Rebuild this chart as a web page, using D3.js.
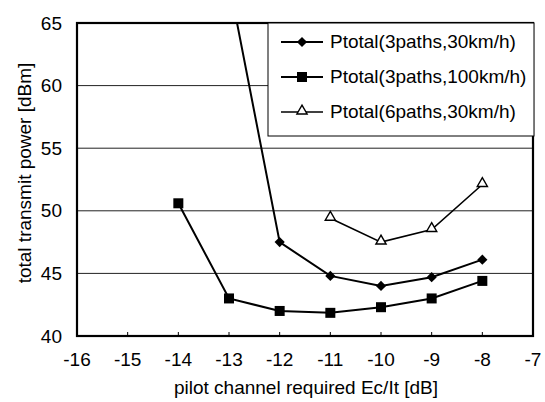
<!DOCTYPE html>
<html>
<head>
<meta charset="utf-8">
<script src="https://cdn.jsdelivr.net/npm/d3@7"></script>
<style>
  body { margin: 0; background: #fff; }
  text { font-family: "Liberation Sans", Arial, sans-serif; fill: #000; }
</style>
</head>
<body>
<div id="chart"></div>
<script>
// data
var xTicks = [-16, -15, -14, -13, -12, -11, -10, -9, -8, -7];
var yTicks = [40, 45, 50, 55, 60, 65];

var x3p30 = [-13, -12, -11, -10, -9, -8];
var y3p30 = [68.3, 47.5, 44.8, 44.0, 44.7, 46.1];

var x3p100 = [-14, -13, -12, -11, -10, -9, -8];
var y3p100 = [50.6, 43.0, 42.0, 41.85, 42.3, 43.0, 44.4];

var x6p30 = [-11, -10, -9, -8];
var y6p30 = [49.4, 47.5, 48.5, 52.1];

var seriesNames = ["Ptotal(3paths,30km/h)", "Ptotal(3paths,100km/h)", "Ptotal(6paths,30km/h)"];

// set the dimensions and margins of the graph
var margin = {top: 23, right: 12, bottom: 66, left: 77},
    width = 545 - margin.left - margin.right,
    height = 402 - margin.top - margin.bottom;

var svg = d3.select("#chart")
    .append("svg")
        .attr("width", 545)
        .attr("height", 402)
    .append("g")
        .attr("transform", "translate(" + margin.left + "," + margin.top + ")");

var x = d3.scaleLinear().domain([-16, -7]).range([0, width]);
var y = d3.scaleLinear().domain([40, 65]).range([height, 0]);

svg.append("clipPath").attr("id", "plotClip")
    .append("rect").attr("width", width).attr("height", height);

// horizontal grid
svg.selectAll(".hline").data([45, 50, 55, 60]).enter()
    .append("line")
        .attr("x1", 0).attr("x2", width)
        .attr("y1", function(d){ return y(d); })
        .attr("y2", function(d){ return y(d); })
        .attr("stroke", "#222").attr("stroke-width", 1);

// inner tick marks on the bottom axis
svg.selectAll(".xtick").data(xTicks).enter()
    .append("line")
        .attr("x1", function(d){ return x(d); })
        .attr("x2", function(d){ return x(d); })
        .attr("y1", height).attr("y2", height - 4)
        .attr("stroke", "#000").attr("stroke-width", 1);

// frame
svg.append("rect")
    .attr("width", width).attr("height", height)
    .attr("fill", "none").attr("stroke", "#000").attr("stroke-width", 2.2);

// tick labels
svg.selectAll(".xlab").data(xTicks).enter()
    .append("text")
        .attr("x", function(d){ return x(d); })
        .attr("y", height + 30)
        .attr("text-anchor", "middle")
        .style("font-size", "19px")
        .text(function(d){ return d; });

svg.selectAll(".ylab").data(yTicks).enter()
    .append("text")
        .attr("x", -15)
        .attr("y", function(d){ return y(d); })
        .attr("dy", "0.35em")
        .attr("text-anchor", "end")
        .style("font-size", "19px")
        .text(function(d){ return d; });

// axis titles
svg.append("text")
    .attr("x", 229)
    .attr("y", height + 58)
    .attr("text-anchor", "middle")
    .style("font-size", "19px")
    .text("pilot channel required Ec/It [dB]");

svg.append("text")
    .attr("transform", "rotate(-90)")
    .attr("x", -150)
    .attr("y", -46)
    .attr("text-anchor", "middle")
    .style("font-size", "19px")
    .text("total transmit power [dBm]");

var line = d3.line()
    .x(function(d){ return x(d[0]); })
    .y(function(d){ return y(d[1]); });

var series = [
    {xs: x3p30, ys: y3p30, marker: "diamond", sw: 2},
    {xs: x3p100, ys: y3p100, marker: "square", sw: 2},
    {xs: x6p30, ys: y6p30, marker: "triangle", sw: 1.6}
];

function drawMarker(g, type, cx, cy) {
    if (type == "diamond") {
        g.append("path")
            .attr("d", d3.symbol().type(d3.symbolDiamond2).size(66)())
            .attr("transform", "translate(" + cx + "," + cy + ")")
            .attr("fill", "#000");
    } else if (type == "square") {
        g.append("rect")
            .attr("x", cx - 5).attr("y", cy - 5)
            .attr("width", 10).attr("height", 10)
            .attr("fill", "#000");
    } else {
        g.append("path")
            .attr("d", d3.symbol().type(d3.symbolTriangle).size(45)())
            .attr("transform", "translate(" + cx + "," + (cy - 1) + ")")
            .attr("fill", "#fff").attr("stroke", "#000").attr("stroke-width", 1.4);
    }
}

var plot = svg.append("g").attr("clip-path", "url(#plotClip)");

series.forEach(function(s) {
    var pts = s.xs.map(function(v, i){ return [v, s.ys[i]]; });
    plot.append("path")
        .datum(pts)
        .attr("d", line)
        .attr("fill", "none")
        .attr("stroke", "#000")
        .attr("stroke-width", s.sw);
    pts.forEach(function(p) {
        drawMarker(plot, s.marker, x(p[0]), y(p[1]));
    });
});

// legend
var lg = svg.append("g").attr("transform", "translate(" + (268 - margin.left) + ",0)");
lg.append("rect")
    .attr("width", 266).attr("height", 113)
    .attr("fill", "#fff").attr("stroke", "#000").attr("stroke-width", 1);

seriesNames.forEach(function(name, i) {
    var ly = 19 + i * 35;
    lg.append("line")
        .attr("x1", 13).attr("x2", 55)
        .attr("y1", ly).attr("y2", ly)
        .attr("stroke", "#000").attr("stroke-width", series[i].sw);
    drawMarker(lg, series[i].marker, 34, ly);
    lg.append("text")
        .attr("x", 62)
        .attr("y", ly)
        .attr("dy", "0.3em")
        .style("font-size", "19px")
        .text(name);
});
</script>
</body>
</html>
